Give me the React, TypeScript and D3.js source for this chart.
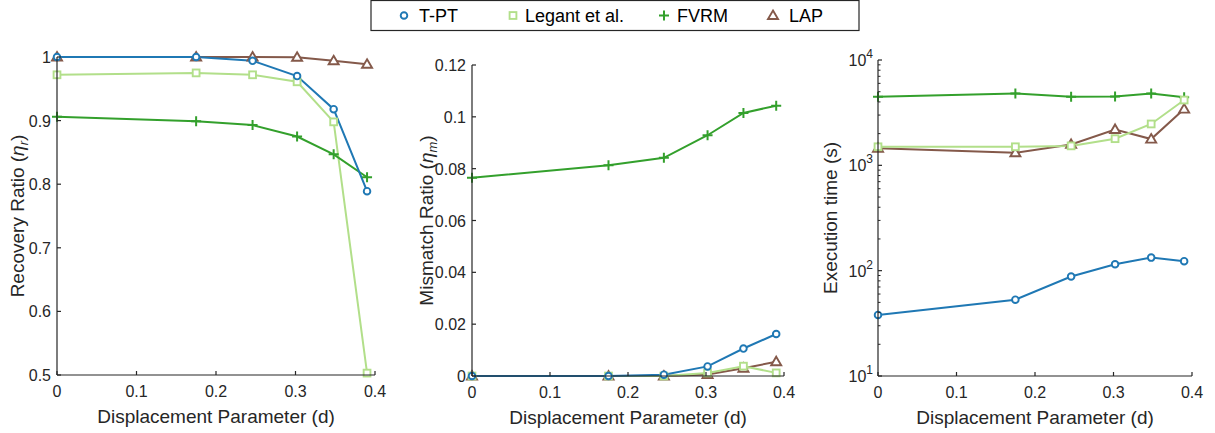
import React from "react";
import * as d3 from "d3";

const dValues = [0, 0.175, 0.246, 0.302, 0.348, 0.39];

const recoveryTPT = [1.0, 1.0, 0.994, 0.97, 0.918, 0.789];
const recoveryLegant = [0.972, 0.975, 0.972, 0.961, 0.898, 0.503];
const recoveryFVRM = [0.906, 0.899, 0.893, 0.875, 0.847, 0.811];
const recoveryLAP = [1.0, 1.0, 1.0, 0.9995, 0.994, 0.9885];

const mismatchTPT = [0, 0, 0.0005, 0.0037, 0.0106, 0.0162];
const mismatchLegant = [0, 0, 0, 0.0012, 0.0038, 0.0012];
const mismatchFVRM = [0.0765, 0.0813, 0.0842, 0.0929, 0.1015, 0.1043];
const mismatchLAP = [0, 0, 0, 0.0006, 0.003, 0.0055];

const timeTPT = [38, 53, 88, 115, 133, 123];
const timeLegant = [1500, 1500, 1530, 1790, 2470, 4170];
const timeFVRM = [4480, 4820, 4480, 4500, 4820, 4420];
const timeLAP = [1450, 1315, 1580, 2190, 1775, 3420];

const seriesNames = ["T-PT", "Legant et al.", "FVRM", "LAP"];
const xTicks = [0, 0.1, 0.2, 0.3, 0.4];
const recoveryTicks = [0.5, 0.6, 0.7, 0.8, 0.9, 1];
const mismatchTicks = [0, 0.02, 0.04, 0.06, 0.08, 0.1, 0.12];
const timeTicks = [10, 100, 1000, 10000];

const COLORS: Record<string, string> = {
  "T-PT": "#1f78b4",
  "Legant et al.": "#b2df8a",
  FVRM: "#33a02c",
  LAP: "#84594a",
};
const MARKERS: Record<string, string> = {
  "T-PT": "circle",
  "Legant et al.": "square",
  FVRM: "plus",
  LAP: "triangle",
};

const FONT = "'Liberation Sans', Arial, Helvetica, sans-serif";
const AXIS = "#262626";

function Marker({ type, x, y, color }: { type: string; x: number; y: number; color: string }) {
  if (type === "circle")
    return <circle cx={x} cy={y} r={3.3} fill="white" stroke={color} strokeWidth={1.9} />;
  if (type === "square")
    return <rect x={x - 3.4} y={y - 3.4} width={6.8} height={6.8} fill="white" stroke={color} strokeWidth={1.9} />;
  if (type === "plus")
    return (
      <path d={`M${x - 5},${y}H${x + 5}M${x},${y - 5}V${y + 5}`} stroke={color} strokeWidth={2} fill="none" />
    );
  return (
    <path
      d={`M${x},${y - 5}L${x + 5},${y + 3.5}L${x - 5},${y + 3.5}Z`}
      fill="white"
      stroke={color}
      strokeWidth={1.9}
      strokeLinejoin="miter"
    />
  );
}

type Panel = {
  left: number;
  right: number;
  top: number;
  bottom: number;
  yScale: any;
  yTicks: number[];
  log?: boolean;
  yLabel: React.ReactNode;
  yLabelX: number;
  series: { name: string; values: number[] }[];
};

function PanelView({ p }: { p: Panel }) {
  const x = d3.scaleLinear().domain([0, 0.4]).range([p.left, p.right]);
  const y = p.yScale;
  const line = d3
    .line<[number, number]>()
    .x((d) => x(d[0]))
    .y((d) => y(d[1]));
  const minor: number[] = [];
  if (p.log) {
    for (let e = 1; e < 4; e++) for (let k = 2; k <= 9; k++) minor.push(k * Math.pow(10, e));
  }
  const fmt = (v: number) => (v === 0 ? "0" : String(+v.toFixed(3)));
  const cy = (p.top + p.bottom) / 2;
  return (
    <g>
      {p.series.map((s) => (
        <path
          key={s.name}
          d={line(dValues.map((d, i) => [d, s.values[i]] as [number, number])) || ""}
          fill="none"
          stroke={COLORS[s.name]}
          strokeWidth={2}
        />
      ))}
      {p.series.map((s) =>
        s.values.map((v, i) => (
          <Marker key={s.name + i} type={MARKERS[s.name]} x={x(dValues[i])} y={y(v)} color={COLORS[s.name]} />
        ))
      )}
      <line x1={p.left} x2={p.right} y1={p.bottom} y2={p.bottom} stroke={AXIS} strokeWidth={1.2} />
      <line x1={p.left} x2={p.left} y1={p.top} y2={p.bottom} stroke={AXIS} strokeWidth={1.2} />
      {xTicks.map((t) => (
        <g key={"x" + t}>
          <line x1={x(t)} x2={x(t)} y1={p.bottom} y2={p.bottom - 4} stroke={AXIS} strokeWidth={1.2} />
          <text x={x(t)} y={p.bottom + 22} textAnchor="middle" fontSize={16} fill={AXIS} fontFamily={FONT}>
            {fmt(t)}
          </text>
        </g>
      ))}
      {p.yTicks.map((t) => (
        <g key={"y" + t}>
          <line x1={p.left} x2={p.left + 4} y1={y(t)} y2={y(t)} stroke={AXIS} strokeWidth={1.2} />
          {p.log ? (
            <text x={p.left - 5} y={y(t) + 6} textAnchor="end" fontSize={16} fill={AXIS} fontFamily={FONT}>
              10
              <tspan dy={-8} fontSize={12}>
                {Math.round(Math.log10(t))}
              </tspan>
            </text>
          ) : (
            <text x={p.left - 6} y={y(t) + 6} textAnchor="end" fontSize={16} fill={AXIS} fontFamily={FONT}>
              {fmt(t)}
            </text>
          )}
        </g>
      ))}
      {minor.map((t) => (
        <line key={"m" + t} x1={p.left} x2={p.left + 2.5} y1={y(t)} y2={y(t)} stroke={AXIS} strokeWidth={1} />
      ))}
      <text
        x={(p.left + p.right) / 2}
        y={p.bottom + 48}
        textAnchor="middle"
        fontSize={19}
        fill={AXIS}
        fontFamily={FONT}
      >
        Displacement Parameter (d)
      </text>
      <text
        transform={`translate(${p.yLabelX},${cy}) rotate(-90)`}
        textAnchor="middle"
        fontSize={19}
        fill={AXIS}
        fontFamily={FONT}
      >
        {p.yLabel}
      </text>
    </g>
  );
}

export default function App() {
  const W = 1215;
  const H = 433;
  const panels: Panel[] = [
    {
      left: 57,
      right: 375,
      top: 57,
      bottom: 375,
      yScale: d3.scaleLinear().domain([0.5, 1]).range([375, 57]),
      yTicks: recoveryTicks,
      yLabel: (
        <>
          Recovery Ratio (<tspan fontStyle="italic">η</tspan>
          <tspan fontStyle="italic" fontSize={13} dy={4}>
            r
          </tspan>
          <tspan dy={-4}>)</tspan>
        </>
      ),
      yLabelX: 24,
      series: [
        { name: "LAP", values: recoveryLAP },
        { name: "Legant et al.", values: recoveryLegant },
        { name: "FVRM", values: recoveryFVRM },
        { name: "T-PT", values: recoveryTPT },
      ],
    },
    {
      left: 472,
      right: 784,
      top: 65,
      bottom: 376,
      yScale: d3.scaleLinear().domain([0, 0.12]).range([376, 65]),
      yTicks: mismatchTicks,
      yLabel: (
        <>
          Mismatch Ratio (<tspan fontStyle="italic">η</tspan>
          <tspan fontStyle="italic" fontSize={13} dy={4}>
            m
          </tspan>
          <tspan dy={-4}>)</tspan>
        </>
      ),
      yLabelX: 433,
      series: [
        { name: "FVRM", values: mismatchFVRM },
        { name: "LAP", values: mismatchLAP },
        { name: "Legant et al.", values: mismatchLegant },
        { name: "T-PT", values: mismatchTPT },
      ],
    },
    {
      left: 878,
      right: 1192,
      top: 60,
      bottom: 376,
      yScale: d3.scaleLog().domain([10, 10000]).range([376, 60]),
      yTicks: timeTicks,
      log: true,
      yLabel: "Execution time (s)",
      yLabelX: 837,
      series: [
        { name: "LAP", values: timeLAP },
        { name: "FVRM", values: timeFVRM },
        { name: "Legant et al.", values: timeLegant },
        { name: "T-PT", values: timeTPT },
      ],
    },
  ];

  const legendMarkerX = [404, 513, 664, 773];
  const legendTextX = [419, 525, 677, 789];
  return (
    <svg width={W} height={H} style={{ position: "absolute", left: 0, top: 0, background: "white" }}>
      <rect x={0} y={0} width={W} height={H} fill="white" />
      {panels.map((p, i) => (
        <PanelView key={i} p={p} />
      ))}
      <rect x={371} y={0.5} width={488} height={30} fill="white" stroke={AXIS} strokeWidth={1.2} />
      {seriesNames.map((n, i) => (
        <g key={n}>
          <Marker type={MARKERS[n]} x={legendMarkerX[i]} y={15.5} color={COLORS[n]} />
          <text x={legendTextX[i]} y={22} fontSize={18} fill="#000" fontFamily={FONT}>
            {n}
          </text>
        </g>
      ))}
    </svg>
  );
}
